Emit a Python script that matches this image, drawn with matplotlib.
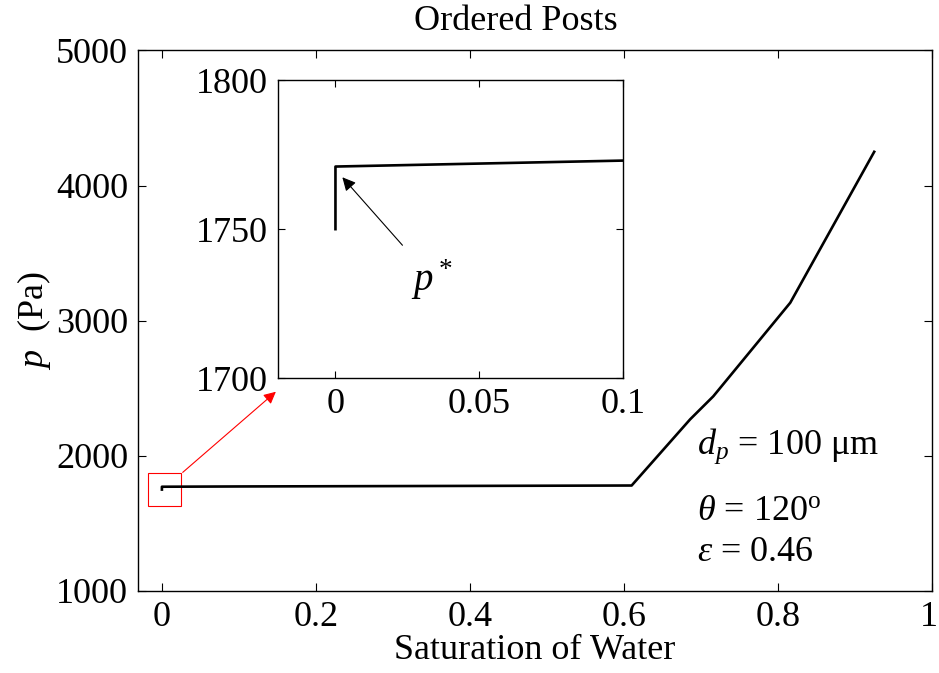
import matplotlib
matplotlib.use("Agg")
import matplotlib.pyplot as plt
import matplotlib.transforms as mtransforms
from matplotlib.patches import Rectangle

plt.rcParams['font.family'] = ['Liberation Serif', 'DejaVu Serif']
plt.rcParams['mathtext.fontset'] = 'custom'
plt.rcParams['mathtext.rm'] = 'Liberation Serif'
plt.rcParams['mathtext.it'] = 'Liberation Serif:italic'
plt.rcParams['xtick.direction'] = 'in'
plt.rcParams['ytick.direction'] = 'in'

# capillary pressure curve
saturation = [0, 0, 0.1, 0.61, 0.686, 0.716, 0.816, 0.925]
pressure = [1750, 1771, 1773, 1780, 2270, 2440, 3133, 4250]

main_xticks = [0, 0.2, 0.4, 0.6, 0.8, 1]
main_xticklabels = ['0', '0.2', '0.4', '0.6', '0.8', '1']
main_yticks = [1000, 2000, 3000, 4000, 5000]
inset_xticks = [0, 0.05, 0.1]
inset_xticklabels = ['0', '0.05', '0.1']
inset_yticks = [1700, 1750, 1800]

FS = 26

fig = plt.figure(figsize=(9.39, 6.73), dpi=100)
ax = fig.add_axes([0.147, 0.122, 0.8455, 0.803])
ax.plot(saturation, pressure, color='black', lw=1.9)
ax.set_xlim(-0.031, 1)
ax.set_ylim(1000, 5000)
ax.set_xticks(main_xticks)
ax.set_xticklabels(main_xticklabels)
ax.set_yticks(main_yticks)
ax.tick_params(labelsize=FS, top=True, right=True, length=6, width=0.8, pad=7)
for s in ax.spines.values():
    s.set_linewidth(1.0)
# keep the last x label inside the canvas
last = ax.get_xticklabels()[-1]
last.set_transform(last.get_transform() +
                   mtransforms.ScaledTranslation(-3 / 100, 0, fig.dpi_scale_trans))
ax.set_xlabel('Saturation of Water', fontsize=FS, labelpad=0)
ax.set_ylabel(r'$p$  (Pa)', fontsize=FS, labelpad=2)
fig.text(516 / 939, 1 - 22 / 673, 'Ordered Posts', fontsize=FS,
         ha='center', va='center')

# zoom box and pointer to the inset
ax.add_patch(Rectangle((-0.018, 1627), 0.043, 244, fill=False,
                       edgecolor='red', lw=0.8))
ax.annotate('', xy=(0.148, 2474), xytext=(0.027, 1877),
            arrowprops=dict(arrowstyle='-|>', color='red', lw=0.8,
                            mutation_scale=18, shrinkA=0, shrinkB=0))

ax.text(0.695, 2067, r'$d_p$ = 100 $\mathrm{\mu}$m', fontsize=FS,
        ha='left', va='center')
ax.text(0.695, 1585, r'$\theta$ = 120$^{\mathrm{o}}$', fontsize=FS,
        ha='left', va='center')
ax.text(0.695, 1281, r'$\varepsilon$ = 0.46', fontsize=FS,
        ha='left', va='center')

# inset: detail near zero saturation
ins = fig.add_axes([0.296, 0.438, 0.3675, 0.443])
ins.plot(saturation, pressure, color='black', lw=1.9)
ins.set_xlim(-0.02, 0.1)
ins.set_ylim(1700, 1800)
ins.set_xticks(inset_xticks)
ins.set_xticklabels(inset_xticklabels)
ins.set_yticks(inset_yticks)
ins.tick_params(labelsize=FS, top=True, right=True, length=5, width=0.8, pad=7)
for s in ins.spines.values():
    s.set_linewidth(1.0)
ins.annotate('', xy=(0.0024, 1767.4), xytext=(0.0233, 1744.6),
             arrowprops=dict(arrowstyle='-|>', color='black', lw=0.8,
                             mutation_scale=20, shrinkA=0, shrinkB=0))
ins.text(0.0335, 1733, r'$p^*$', fontsize=FS + 2, ha='center', va='center')

fig.savefig('out.png', dpi=100)
